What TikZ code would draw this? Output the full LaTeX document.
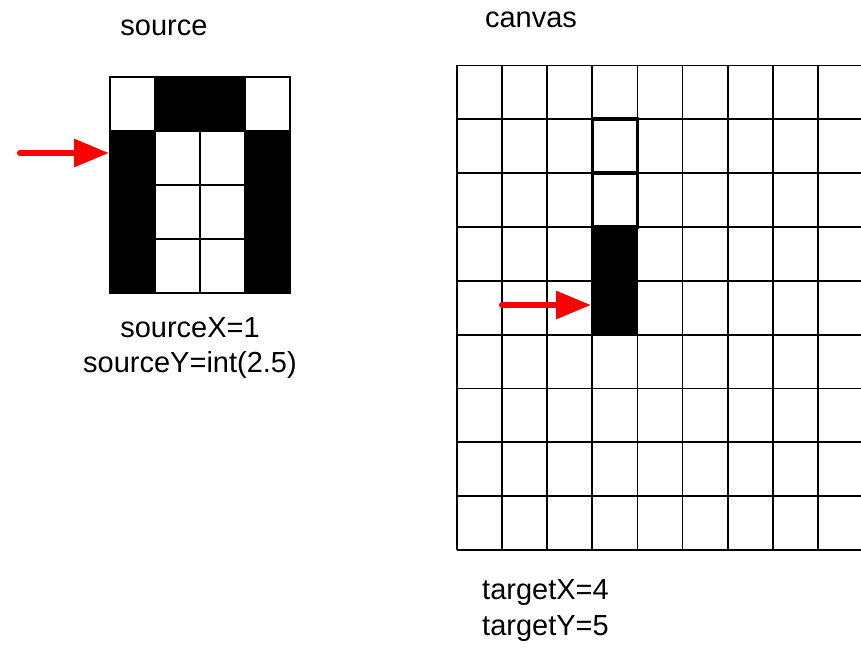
\documentclass[tikz,border=0pt]{standalone}
\usepackage{fontspec}
\setmainfont{Liberation Sans}
\usetikzlibrary{arrows.meta}
\begin{document}
\begin{tikzpicture}[x=1pt,y=-1pt,
  lbl/.style={inner sep=0pt, anchor=base, font=\fontsize{29}{34}\selectfont},
  lblw/.style={inner sep=0pt, anchor=base west, font=\fontsize{29}{34}\selectfont},
  gridline/.style={line width=1.8pt, black},
  hilite/.style={line width=3.6pt, black},
  redarrow/.style={draw=red, line width=6pt, line cap=round,
    -{Triangle[length=35pt,width=27pt]}}]
\useasboundingbox (0,0) rectangle (861,650);

% ---------- source grid ----------
\foreach \x in {110,155,200,245,290} \draw[gridline] (\x,77) -- (\x,293);
\foreach \y in {77,131,185,239,293} \draw[gridline] (110,\y) -- (290,\y);
\fill[black] (155,77) rectangle (245,131);
\fill[black] (110,131) rectangle (155,293);
\fill[black] (245,131) rectangle (290,293);
\draw[gridline] (110,77) rectangle (290,293);
\coordinate (srcedge) at (109,153);
\coordinate (srctail) at (20,153);
\draw[redarrow] (srctail) -- (srcedge);

% ---------- canvas grid ----------
\foreach \i in {0,...,8} \draw[gridline] ({457+45.1*\i},65.5) -- ({457+45.1*\i},550);
\foreach \j in {0,...,9} \draw[gridline] (457,{65.5+53.83*\j}) -- (861,{65.5+53.83*\j});
\fill[black] (592.3,227) rectangle (637.4,334.8);
\draw[hilite] (592.3,119.3) rectangle (637.4,173.2);
\draw[hilite] (592.3,173.2) rectangle (637.4,227);
\coordinate (tgtedge) at (591,305);
\coordinate (tgttail) at (502,305);
\draw[redarrow] (tgttail) -- (tgtedge);

% ---------- labels ----------
\node[lbl] (lsource) at (164,36) {source};
\node[lbl] (lcanvas) at (531,28) {canvas};
\node[lbl] (lsx) at (190,337) {sourceX=1};
\node[lbl] (lsy) at (190,372) {sourceY=int(2.5)};
\node[lblw] (ltx) at (482,599) {targetX=4};
\node[lblw] (lty) at (482,635) {targetY=5};
\end{tikzpicture}
\end{document}
